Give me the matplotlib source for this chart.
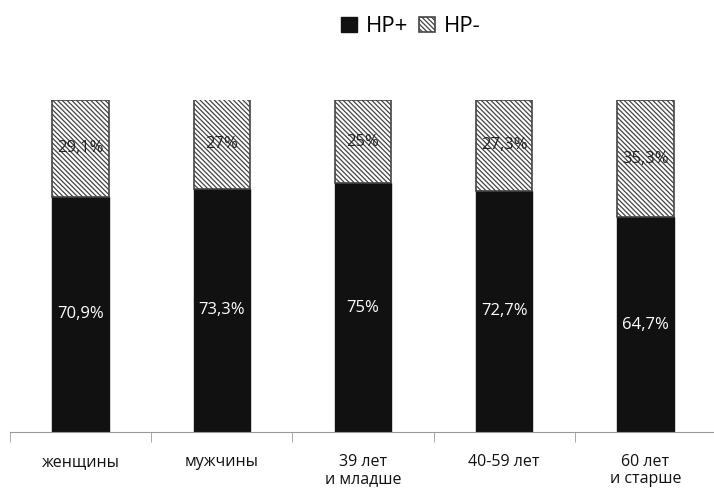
import numpy as np
import matplotlib.pyplot as plt

plt.rcParams['font.family'] = ['Open Sans', 'DejaVu Sans']
plt.rcParams['hatch.linewidth'] = 0.9
plt.rcParams['hatch.color'] = '#444444'

categories = ["женщины", "мужчины", "39 лет\nи младше", "40-59 лет", "60 лет\nи старше"]
hp_pos = [70.9, 73.3, 75, 72.7, 64.7]
hp_neg = [29.1, 27, 25, 27.3, 35.3]
lab_pos = ["70,9%", "73,3%", "75%", "72,7%", "64,7%"]
lab_neg = ["29,1%", "27%", "25%", "27,3%", "35,3%"]

fig = plt.figure(figsize=(7.14, 4.9), dpi=100)
ax = fig.add_axes([10 / 714, 58 / 490, 706 / 714, 332 / 490])

x = np.arange(len(categories))
b1 = ax.bar(x, hp_pos, width=0.40, color="#111111", edgecolor="#111111", label="HP+")
b2 = ax.bar(x, hp_neg, width=0.40, bottom=hp_pos, color="white", edgecolor="#444444",
            hatch="\\" * 7, linewidth=1.2, label="HP-")

for i in range(len(categories)):
    ax.text(x[i], hp_pos[i] / 2, lab_pos[i], ha="center", va="center", color="white", fontsize=12)
    ax.text(x[i], hp_pos[i] + hp_neg[i] / 2, lab_neg[i], ha="center", va="center",
            color="#222222", fontsize=12)

ax.set_xlim(-0.5, len(categories) - 0.5)
ax.set_ylim(0, 100)
ax.set_xticks(x)
ax.set_xticklabels(categories, fontsize=11.5, linespacing=1.05, color="#111111")
ax.set_xticks(np.arange(len(categories) + 1) - 0.5, minor=True)
ax.tick_params(axis="x", which="major", length=0, pad=16)
ax.tick_params(axis="x", which="minor", length=7, color="#999999", direction="out")
ax.set_yticks([])
for s in ["top", "right", "left"]:
    ax.spines[s].set_visible(False)
ax.spines["bottom"].set_color("#999999")

fig.legend(handles=[b1, b2], loc="center", bbox_to_anchor=(411 / 714, 1 - 27 / 490),
           ncol=2, frameon=False, fontsize=16, handlelength=0.7, handleheight=0.7,
           handletextpad=0.4, columnspacing=0.5)

fig.savefig("out.png", dpi=100)
